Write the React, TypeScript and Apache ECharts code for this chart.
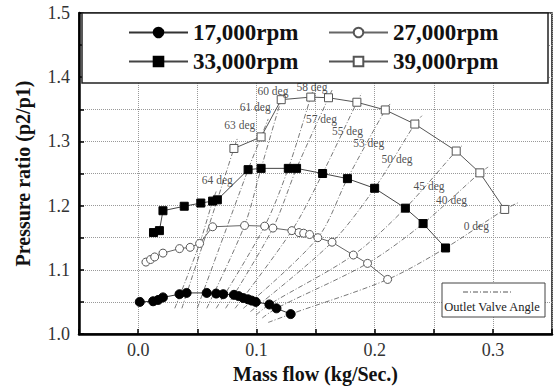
import React, { useEffect, useRef } from 'react';
import * as echarts from 'echarts';

const SERIF = '"Liberation Serif", "Times New Roman", serif';

const speedNames = ['17,000rpm', '27,000rpm', '33,000rpm', '39,000rpm'];

const rpm17000 = [
  [0.0014, 1.05], [0.0127, 1.051], [0.017, 1.053], [0.021, 1.057], [0.035, 1.062],
  [0.041, 1.064], [0.058, 1.064], [0.066, 1.063], [0.072, 1.062], [0.081, 1.061],
  [0.085, 1.059], [0.089, 1.056], [0.093, 1.054], [0.096, 1.052], [0.0995, 1.05],
  [0.111, 1.046], [0.117, 1.04], [0.129, 1.031],
];

const rpm27000 = [
  [0.0066, 1.112], [0.0105, 1.116], [0.014, 1.12], [0.021, 1.126], [0.035, 1.133],
  [0.044, 1.135], [0.052, 1.141], [0.063, 1.167], [0.09, 1.169], [0.107, 1.168],
  [0.114, 1.165], [0.13, 1.161], [0.136, 1.158], [0.14, 1.157], [0.145, 1.155],
  [0.152, 1.15], [0.164, 1.143], [0.182, 1.123], [0.194, 1.11], [0.211, 1.085],
];

const rpm33000 = [
  [0.013, 1.158], [0.018, 1.161], [0.021, 1.192], [0.039, 1.199], [0.053, 1.204],
  [0.063, 1.207], [0.067, 1.209], [0.093, 1.256], [0.104, 1.258], [0.127, 1.258],
  [0.134, 1.258], [0.156, 1.25], [0.177, 1.242], [0.2, 1.227], [0.226, 1.196],
  [0.241, 1.172], [0.26, 1.134],
];

const rpm39000 = [
  [0.081, 1.289], [0.104, 1.307], [0.121, 1.365], [0.146, 1.369], [0.161, 1.368],
  [0.185, 1.361], [0.209, 1.349], [0.234, 1.327], [0.269, 1.285], [0.289, 1.251],
  [0.31, 1.194],
];

const angleNames = ['64 deg', '63 deg', '61 deg', '60 deg', '58 deg', '57 deg', '55 deg', '53 deg', '50 deg', '45 deg', '40 deg', '0 deg'];

const angleLines = [
  [[0.031, 1.04], [0.052, 1.141], [0.063, 1.207], [0.066, 1.222]],
  [[0.037, 1.04], [0.067, 1.209], [0.081, 1.289], [0.084, 1.305]],
  [[0.05, 1.04], [0.093, 1.256], [0.104, 1.307], [0.11, 1.335]],
  [[0.058, 1.04], [0.09, 1.169], [0.104, 1.258], [0.121, 1.365], [0.123, 1.375]],
  [[0.066, 1.04], [0.107, 1.168], [0.127, 1.258], [0.146, 1.369], [0.148, 1.38]],
  [[0.074, 1.04], [0.114, 1.165], [0.134, 1.258], [0.161, 1.368], [0.164, 1.38]],
  [[0.082, 1.04], [0.13, 1.161], [0.156, 1.25], [0.185, 1.361], [0.189, 1.375]],
  [[0.089, 1.04], [0.152, 1.15], [0.177, 1.242], [0.209, 1.349], [0.214, 1.36]],
  [[0.095, 1.035], [0.164, 1.143], [0.2, 1.227], [0.234, 1.327], [0.24, 1.34]],
  [[0.1, 1.03], [0.111, 1.046], [0.182, 1.123], [0.226, 1.196], [0.269, 1.285], [0.275, 1.295]],
  [[0.105, 1.025], [0.117, 1.04], [0.194, 1.11], [0.241, 1.172], [0.289, 1.251], [0.296, 1.26]],
  [[0.11, 1.018], [0.129, 1.031], [0.211, 1.085], [0.26, 1.134], [0.31, 1.194], [0.322, 1.205]],
];

const angleLabelPos = [
  [0.067, 1.24], [0.086, 1.326], [0.099, 1.354], [0.114, 1.378], [0.147, 1.385], [0.155, 1.335],
  [0.177, 1.316], [0.195, 1.297], [0.219, 1.273], [0.246, 1.231], [0.265, 1.209], [0.286, 1.168],
];

const xMin = -0.05;
const xMax = 0.35;
const yMin = 1.0;
const yMax = 1.5;
const step = 0.05;

const fmt = (v: number) => (Math.abs(Math.round(v / step)) % 2 === 0 ? v.toFixed(1) : '');

export default function App() {
  const ref = useRef<HTMLDivElement>(null);

  useEffect(() => {
    if (!ref.current) return;
    const chart = echarts.init(ref.current, undefined, { renderer: 'svg' });
    const dashDot = [5, 2, 1, 2];

    const speedStyles = [
      { symbol: 'circle', size: 9, fill: '#000', stroke: '#000', line: '#333', lineType: 'solid' },
      { symbol: 'circle', size: 8, fill: '#fff', stroke: '#555', line: '#666', lineType: 'solid' },
      { symbol: 'rect', size: 8, fill: '#000', stroke: '#000', line: '#444', lineType: 'solid' },
      { symbol: 'rect', size: 8, fill: '#fff', stroke: '#555', line: '#555', lineType: 'solid' },
    ];
    const speedData = [rpm17000, rpm27000, rpm33000, rpm39000];

    const series: any[] = [];
    angleLines.forEach((pts) => {
      series.push({
        name: 'Outlet Valve Angle',
        type: 'line',
        data: pts,
        showSymbol: false,
        symbol: 'none',
        smooth: 0.3,
        lineStyle: { color: '#555', width: 0.8, type: dashDot },
        z: 1,
        silent: true,
      });
    });
    speedData.forEach((d, i) => {
      const s = speedStyles[i];
      series.push({
        name: speedNames[i],
        type: 'line',
        data: d,
        symbol: s.symbol,
        symbolSize: s.size,
        lineStyle: { color: s.line, width: 1, type: s.lineType },
        itemStyle: { color: s.fill, borderColor: s.stroke, borderWidth: 1 },
        z: 3,
      });
    });
    series.push({
      name: 'labels',
      type: 'scatter',
      symbolSize: 0,
      data: angleLabelPos.map((p, i) => ({ value: p, name: angleNames[i] })),
      label: {
        show: true,
        position: 'inside',
        formatter: (p: any) => p.name,
        fontFamily: SERIF,
        fontSize: 11.5,
        color: '#222',
      },
      z: 4,
      silent: true,
    });

    const legendPos = [
      { left: 128, top: 21 },
      { left: 328, top: 21 },
      { left: 128, top: 50 },
      { left: 328, top: 50 },
    ];

    chart.setOption({
      animation: false,
      backgroundColor: '#fff',
      grid: {
        left: 79,
        right: 5,
        top: 13,
        bottom: 56,
        show: true,
        borderColor: '#111',
        borderWidth: 1.5,
        backgroundColor: 'transparent',
      },
      legend: speedNames.map((n, i) => ({
        data: [n],
        left: legendPos[i].left,
        top: legendPos[i].top,
        padding: 0,
        itemWidth: 59,
        itemHeight: 12,
        selectedMode: false,
        z: 10,
        textStyle: {
          fontFamily: SERIF,
          fontWeight: 'bold',
          fontSize: 23,
          color: '#111',
        },
      })),
      xAxis: {
        type: 'value',
        min: xMin,
        max: xMax,
        interval: step,
        name: 'Mass flow (kg/Sec.)',
        nameLocation: 'middle',
        nameGap: 25,
        nameTextStyle: { fontFamily: SERIF, fontWeight: 'bold', fontSize: 20, color: '#111' },
        axisLine: { show: true, onZero: false, lineStyle: { color: '#000', width: 2.5 } },
        axisTick: { show: true, inside: true, length: 5, lineStyle: { color: '#000', width: 1.5 } },
        axisLabel: { formatter: fmt, fontFamily: SERIF, fontSize: 18, color: '#333', margin: 7 },
        splitLine: { show: true, lineStyle: { color: '#999', width: 1, type: 'dotted' } },
      },
      yAxis: {
        type: 'value',
        min: yMin,
        max: yMax,
        interval: step,
        name: 'Pressure ratio (p2/p1)',
        nameLocation: 'middle',
        nameGap: 46,
        nameTextStyle: { fontFamily: SERIF, fontWeight: 'bold', fontSize: 20, color: '#111' },
        axisLine: { show: true, onZero: false, lineStyle: { color: '#000', width: 2.5 } },
        axisTick: { show: true, inside: true, length: 5, lineStyle: { color: '#000', width: 1.5 } },
        axisLabel: { formatter: fmt, fontFamily: SERIF, fontSize: 18, color: '#333', margin: 9 },
        splitLine: { show: true, lineStyle: { color: '#999', width: 1, type: 'dotted' } },
      },
      graphic: [
        {
          type: 'rect',
          z: 5,
          shape: { x: 82, y: 13, width: 466, height: 70 },
          style: { fill: '#fff', stroke: '#222', lineWidth: 1.5 },
        },
        {
          type: 'rect',
          z: 5,
          shape: { x: 442, y: 283, width: 103, height: 34 },
          style: { fill: '#fff', stroke: '#444', lineWidth: 1 },
        },
        {
          type: 'line',
          z: 6,
          shape: { x1: 463, y1: 292, x2: 513, y2: 292 },
          style: { stroke: '#555', lineWidth: 1, lineDash: dashDot },
        },
        {
          type: 'text',
          z: 6,
          x: 492,
          y: 307,
          style: {
            text: 'Outlet Valve Angle',
            fontFamily: SERIF,
            fontSize: 12.5,
            fill: '#222',
            align: 'center',
            verticalAlign: 'middle',
          },
        },
      ],
      series,
    });

    return () => chart.dispose();
  }, []);

  return (
    <div
      ref={ref}
      style={{ position: 'fixed', left: 0, top: 0, width: 557, height: 390 }}
    />
  );
}
